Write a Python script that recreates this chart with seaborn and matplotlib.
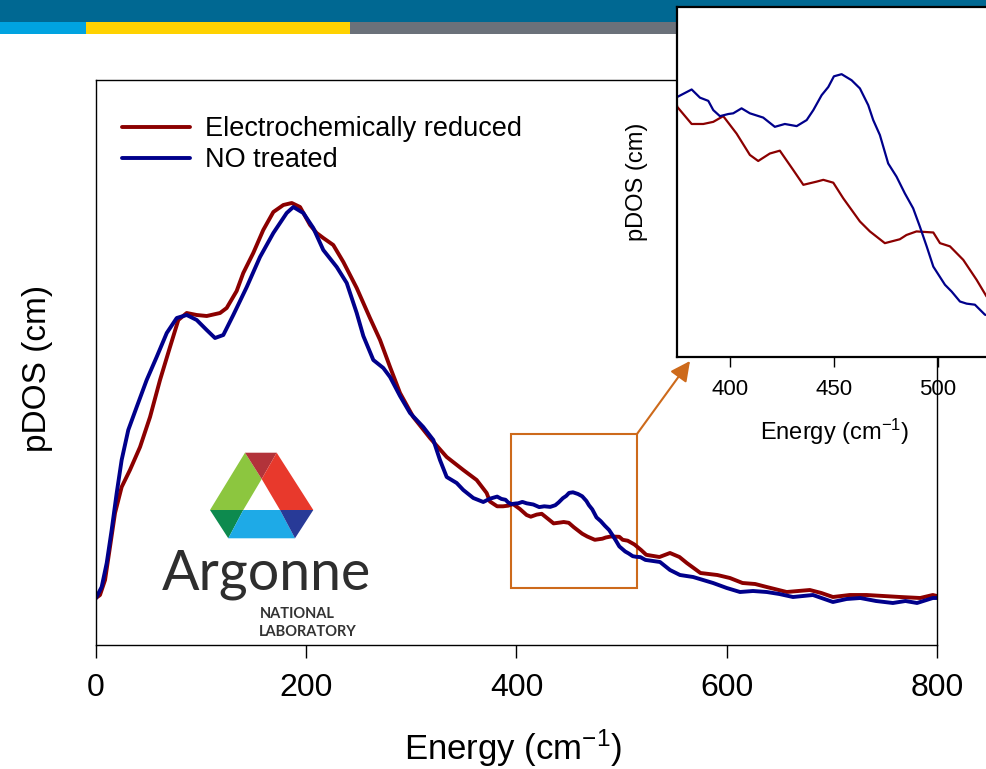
import pandas as pd
import seaborn as sns
import matplotlib.pyplot as plt
from matplotlib.patches import Rectangle, Polygon

# ---------------- DATA ----------------
series_names = ["Electrochemically reduced", "NO treated"]
series_colors = ["#8B0000", "#00008B"]

energy_reduced = [0, 3.8, 8.6, 13.3, 18.1, 24.4, 32.3, 41.9, 51.4, 60.9,
                  70.4, 78.3, 86.3, 95.8, 105.3, 118, 124.3, 133.8, 140.1, 149.6,
                  159.1, 168.7, 178.2, 186.2, 194.1, 203.6, 209.9, 216.2, 225.7, 235.3,
                  248, 260.6, 270.2, 279.7, 289.2, 301.8, 317.7, 333.6, 349.4, 362.1,
                  371.6, 374.7, 381.6, 387.2, 392, 396.8, 403.2, 409.6, 413.6, 419.2,
                  424, 430.4, 435.3, 441.7, 444.9, 449.7, 454.5, 462.5, 467.3, 474.5,
                  481.7, 484.9, 489.7, 497.8, 501, 505.8, 512.2, 518.6, 523.4, 536,
                  546, 555, 562, 575, 591, 603, 615, 627, 638, 657,
                  668, 679, 690, 701, 717, 733, 749, 765, 784, 796,
                  800]
pdos_reduced = [0, 0.03, 0.18, 0.51, 0.85, 1.11, 1.28, 1.51, 1.81, 2.18,
                2.51, 2.78, 2.85, 2.83, 2.82, 2.85, 2.90, 3.07, 3.25, 3.45,
                3.68, 3.86, 3.93, 3.95, 3.91, 3.73, 3.65, 3.60, 3.53, 3.36,
                3.10, 2.80, 2.58, 2.31, 2.05, 1.81, 1.60, 1.41, 1.28, 1.18,
                1.05, 0.965, 0.917, 0.917, 0.923, 0.939, 0.890, 0.830, 0.813, 0.834,
                0.842, 0.788, 0.746, 0.755, 0.760, 0.752, 0.708, 0.643, 0.615, 0.582,
                0.593, 0.605, 0.615, 0.612, 0.582, 0.573, 0.535, 0.479, 0.432, 0.41,
                0.45, 0.41, 0.35, 0.25, 0.23, 0.20, 0.15, 0.14, 0.11, 0.06,
                0.07, 0.08, 0.05, 0.01, 0.03, 0.03, 0.02, 0.01, 0.00, 0.03,
                0.02]

energy_no = [0, 5.4, 10.2, 14.9, 19.7, 24.4, 30.7, 38.7, 48.2, 57.7,
             67.3, 76.8, 86.3, 95.8, 105.3, 113.2, 121.1, 130.6, 143.4, 156.0,
             168.7, 181.4, 187.7, 197.2, 206.7, 216.2, 229.0, 238.5, 248.0, 254.3,
             263.8, 273.3, 279.7, 289.2, 298.7, 311.3, 320.9, 327.2, 333.6, 343.1,
             349.4, 358.9, 368.4, 374.7, 381.6, 385.6, 389.6, 392, 395.2, 399.2,
             401.6, 405.6, 409.6, 416, 421.6, 426.4, 432.1, 436.9, 440.1, 444.1,
             447.3, 450, 453.7, 458.5, 462.5, 466.5, 468.9, 472.1, 476.1, 480.1,
             484.1, 488.1, 491.3, 494.6, 497.8, 503.4, 506.6, 510.6, 513.8, 517.8,
             522.6, 536.5, 546, 555.5, 568, 587, 600, 612.6, 625, 638,
             650, 663, 682, 701, 714, 727, 742, 758, 770, 781,
             796, 800]
pdos_no = [0, 0.11, 0.35, 0.68, 1.05, 1.38, 1.68, 1.91, 2.18, 2.41,
           2.65, 2.80, 2.83, 2.78, 2.68, 2.60, 2.63, 2.83, 3.11, 3.41,
           3.65, 3.85, 3.91, 3.85, 3.70, 3.48, 3.31, 3.15, 2.85, 2.62,
           2.38, 2.30, 2.21, 2.02, 1.85, 1.71, 1.58, 1.38, 1.21, 1.15,
           1.08, 1.00, 0.96, 0.993, 1.014, 0.991, 0.982, 0.956, 0.939, 0.945,
           0.947, 0.961, 0.947, 0.935, 0.909, 0.917, 0.911, 0.928, 0.956, 0.998,
           1.021, 1.051, 1.057, 1.040, 1.017, 0.970, 0.928, 0.886, 0.806, 0.769,
           0.722, 0.680, 0.629, 0.573, 0.516, 0.465, 0.446, 0.418, 0.412, 0.409,
           0.381, 0.36, 0.28, 0.23, 0.21, 0.15, 0.10, 0.06, 0.07, 0.06,
           0.04, 0.01, 0.03, -0.04, -0.01, 0.00, -0.03, -0.05, -0.03, -0.05,
           0.00, 0.00]

main_xticks = [0, 200, 400, 600, 800]
inset_xticks = [400, 450, 500]
# -----------------------------------------------------------

W, H = 987, 769
ORANGE = "#CD6A1B"


def fig_xy(px, py):
    # slide pixel (from top-left) -> figure fraction
    return px / W, 1 - py / H


sns.set_theme(style="white")
plt.rcParams["font.family"] = ["Liberation Sans", "DejaVu Sans"]
plt.rcParams["mathtext.fontset"] = "custom"
plt.rcParams["mathtext.rm"] = "Liberation Sans"
plt.rcParams["mathtext.it"] = "Liberation Sans:italic"
plt.rcParams["text.color"] = "black"
plt.rcParams["axes.labelcolor"] = "black"

df = pd.concat([
    pd.DataFrame({"energy": energy_reduced, "pdos": pdos_reduced, "sample": series_names[0]}),
    pd.DataFrame({"energy": energy_no, "pdos": pdos_no, "sample": series_names[1]}),
], ignore_index=True)
palette = dict(zip(series_names, series_colors))

fig = plt.figure(figsize=(W / 100, H / 100), dpi=100)

# slide header bars
fig.add_artist(Rectangle(fig_xy(0, 22), 1, 22 / H, transform=fig.transFigure,
                         fc="#006892", ec="none", zorder=1))
for x0, x1, c in [(0, 86, "#00A3E0"), (86, 350, "#FFD200"), (350, 987, "#6B717A")]:
    fig.add_artist(Rectangle(fig_xy(x0, 34), (x1 - x0) / W, 12 / H,
                             transform=fig.transFigure, fc=c, ec="none", zorder=1))

# main plot
ax = fig.add_axes([96 / W, 1 - 645 / H, (937 - 96) / W, (645 - 80) / H])
sns.lineplot(data=df, x="energy", y="pdos", hue="sample", palette=palette,
             lw=2.8, estimator=None, sort=False, ax=ax)
ax.set_xlim(0, 800)
ax.set_ylim(-0.47, 5.18)
ax.set_xticks(main_xticks)
ax.set_yticks([])
ax.tick_params(axis="x", bottom=True, direction="out", length=9, width=1,
               labelsize=23, pad=11, colors="black")
for s in ax.spines.values():
    s.set_color("black")
    s.set_linewidth(1.0)
ax.set_xlabel("Energy (cm$^{-1}$)", fontsize=25)
ax.xaxis.set_label_coords(0.496, -0.146)
ax.set_ylabel("pDOS (cm)", fontsize=24)
ax.yaxis.set_label_coords(-0.051, 0.49)

old = ax.get_legend()
handles = old.legend_handles
labels = [t.get_text() for t in old.get_texts()]
for h in handles:
    h.set_linewidth(2.8)
ax.legend(handles, labels, loc="upper left", bbox_to_anchor=fig_xy(122, 116),
          bbox_transform=fig.transFigure, frameon=False, fontsize=19.5,
          handlelength=2.5, handletextpad=0.55, labelspacing=0.2,
          borderpad=0, borderaxespad=0)

# zoom box and arrow
ax.add_patch(Rectangle((394.8, 0.10), 119.8, 1.54, fill=False, ec=ORANGE, lw=1.5))
ax.annotate("", xy=fig_xy(690, 361), xycoords="figure fraction",
            xytext=(514.6, 1.64), textcoords="data", annotation_clip=False,
            arrowprops=dict(arrowstyle="-|>", color=ORANGE, lw=1.5,
                            mutation_scale=30, shrinkA=0, shrinkB=0))

# inset
axins = fig.add_axes([677.3 / W, 1 - 357 / H, (1003 - 677.3) / W, (357 - 7.3) / H], zorder=5)
sns.lineplot(data=df, x="energy", y="pdos", hue="sample", palette=palette,
             lw=1.6, estimator=None, sort=False, legend=False, ax=axins)
axins.set_xlim(374.7, 531.3)
axins.set_ylim(0.262, 1.245)
axins.set_xticks(inset_xticks)
axins.set_yticks([])
axins.tick_params(axis="x", bottom=True, direction="out", length=7, width=1,
                  labelsize=16, pad=8.5, colors="black")
for s in axins.spines.values():
    s.set_color("black")
    s.set_linewidth(1.6)
axins.set_xlabel("Energy (cm$^{-1}$)", fontsize=17)
axins.xaxis.set_label_coords(0.484, -0.172)
axins.set_ylabel("pDOS (cm)", fontsize=17)
axins.yaxis.set_label_coords(-0.09, 0.5)

# Argonne logo
logo = [
    ([(210, 510), (245, 452.7), (261.7, 479), (243.3, 510)], "#8CC63F"),
    ([(245, 452.7), (276.7, 452.7), (261.7, 479)], "#B2333A"),
    ([(276.7, 452.7), (313.3, 510), (280, 510), (261.7, 479)], "#E8392C"),
    ([(210, 510), (243.3, 510), (228.3, 538.3)], "#0D8A4E"),
    ([(243.3, 510), (280, 510), (295, 538.3), (228.3, 538.3)], "#1EAAE7"),
    ([(280, 510), (313.3, 510), (295, 538.3)], "#283A97"),
]
for pts, c in logo:
    fig.add_artist(Polygon([fig_xy(*p) for p in pts], closed=True,
                           transform=fig.transFigure, fc=c, ec="none", zorder=2))
fig.text(*fig_xy(162, 590), "Argonne", fontfamily="Lato", fontsize=40,
         color="#2E2E2E", ha="left", va="baseline", zorder=3)
fig.text(*fig_xy(260, 618), "NATIONAL", fontfamily="Lato", fontweight="bold",
         fontsize=10.5, color="#333333", ha="left", va="baseline", zorder=3)
fig.text(*fig_xy(259, 636), "LABORATORY", fontfamily="Lato", fontweight="bold",
         fontsize=10.5, color="#333333", ha="left", va="baseline", zorder=3)

fig.savefig("out.png", dpi=100)
plt.close()
